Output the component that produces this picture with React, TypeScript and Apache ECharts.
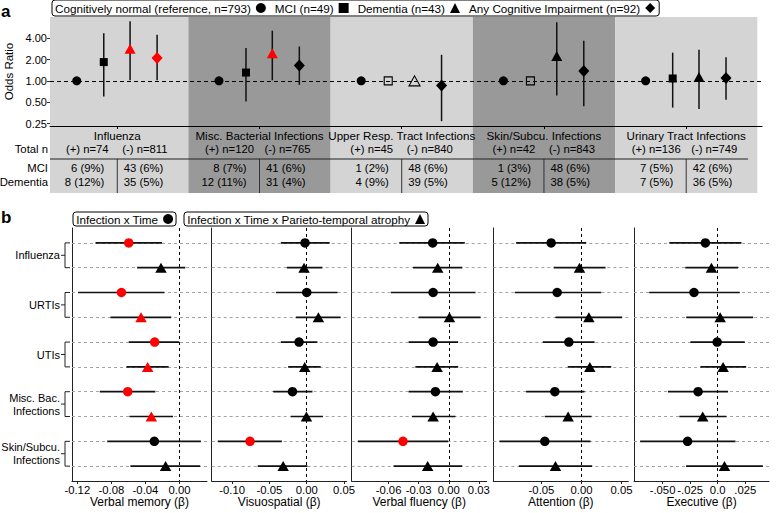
import React, { useEffect, useRef } from "react";
import * as echarts from "echarts";

const FONT = '"Liberation Sans", Arial, Helvetica, sans-serif';
const RED = "#ff0000";
const INK = "#000000";
const BAND_LIGHT = "#d4d4d4";
const BAND_DARK = "#999999";

// ---------- Panel a: odds ratios by infection type ----------
const infectionGroups = [
  "Influenza",
  "Misc. Bacterial Infections",
  "Upper Resp. Tract Infections",
  "Skin/Subcu. Infections",
  "Urinary Tract Infections",
];
const statusNames = [
  "Cognitively normal (reference, n=793)",
  "MCI (n=49)",
  "Dementia (n=43)",
  "Any Cognitive Impairment (n=92)",
];

const referenceOR = [1, 1, 1, 1, 1];

const mciOR = [1.84, 1.31, 1.0, 1.0, 1.08];
const mciLow = [0.6, 0.51, null, null, 0.42];
const mciHigh = [4.7, 2.9, null, null, 2.5];

const dementiaOR = [2.83, 2.46, 1.0, 2.25, 1.13];
const dementiaLow = [1.02, 1.02, null, 0.62, 0.4];
const dementiaHigh = [6.9, 5.1, null, 6.7, 2.74];

const anyOR = [2.1, 1.64, 0.86, 1.38, 1.1];
const anyLow = [1.02, 0.88, 0.27, 0.44, 0.54];
const anyHigh = [4.47, 3.05, 2.33, 3.67, 2.16];

const oddsTicks = [0.25, 0.5, 1, 2, 4];

// counts table under panel a
const totalPositive = [74, 120, 45, 42, 136];
const totalNegative = [811, 765, 840, 843, 749];
const mciPositive = [6, 8, 1, 1, 7];
const mciPositivePct = [9, 7, 2, 3, 5];
const mciNegative = [43, 41, 48, 48, 42];
const mciNegativePct = [6, 6, 6, 6, 6];
const dementiaPositive = [8, 12, 4, 5, 7];
const dementiaPositivePct = [12, 11, 9, 12, 5];
const dementiaNegative = [35, 31, 39, 38, 36];
const dementiaNegativePct = [5, 4, 5, 5, 5];

// ---------- Panel b: cognitive decline betas ----------
const timeName = "Infection x Time";
const atrophyName = "Infection x Time x Parieto-temporal atrophy";
const rowInfections = ["Influenza", "URTIs", "UTIs", "Misc. Bac.\nInfections", "Skin/Subcu.\nInfections"];
const domainNames = ["Verbal memory", "Visuospatial", "Verbal fluency", "Attention", "Executive"];

// rows alternate: Infection x Time, then Infection x Time x atrophy
const verbalMemoryBeta = [-0.0596, -0.0218, -0.0682, -0.0452, -0.0292, -0.0374, -0.0608, -0.0331, -0.0296, -0.0164];
const verbalMemoryLow = [-0.0986, -0.0498, -0.119, -0.081, -0.0596, -0.0623, -0.0936, -0.0588, -0.0849, -0.0577];
const verbalMemoryHigh = [-0.0206, 0.0067, -0.0179, -0.0097, -0.0005, -0.0128, -0.0284, -0.0077, 0.025, 0.0242];

const visuospatialBeta = [-0.0023, -0.0036, 0.0, 0.0156, -0.0103, -0.0027, -0.0191, -0.0004, -0.076, -0.0316];
const visuospatialLow = [-0.0347, -0.0267, -0.0413, -0.0147, -0.0347, -0.0249, -0.0449, -0.0213, -0.1191, -0.0657];
const visuospatialHigh = [0.0307, 0.0209, 0.0413, 0.0453, 0.0143, 0.0187, 0.0076, 0.0217, -0.0333, 0.0009];

const verbalFluencyBeta = [-0.016, -0.011, -0.0156, 0.0007, -0.0156, -0.0116, -0.0133, -0.0156, -0.0456, -0.021];
const verbalFluencyLow = [-0.0493, -0.0356, -0.0576, -0.03, -0.04, -0.0333, -0.04, -0.0366, -0.0906, -0.055];
const verbalFluencyHigh = [0.016, 0.0134, 0.0267, 0.0317, 0.0094, 0.0094, 0.014, 0.0067, -0.0005, 0.0134];

const attentionBeta = [-0.0379, -0.0025, -0.0304, 0.0092, -0.0158, 0.0104, -0.0333, -0.0167, -0.0458, -0.0325];
const attentionLow = [-0.0817, -0.0346, -0.0833, -0.0325, -0.0483, -0.0171, -0.0692, -0.0458, -0.1025, -0.0783];
const attentionHigh = [0.0058, 0.03, 0.0246, 0.0508, 0.0163, 0.0371, 0.0038, 0.0125, 0.0113, 0.0133];

const executiveBeta = [-0.0112, -0.0057, -0.0215, 0.0022, -0.0005, 0.0049, -0.0178, -0.0136, -0.0273, 0.0061];
const executiveLow = [-0.0439, -0.0294, -0.0621, -0.0285, -0.0248, -0.0157, -0.0451, -0.0348, -0.0703, -0.0287];
const executiveHigh = [0.0215, 0.0185, 0.02, 0.0321, 0.0245, 0.0258, 0.0094, 0.0079, 0.0161, 0.0409];

const verbalMemoryTicks = [-0.12, -0.08, -0.04, 0];
const verbalMemoryTickLabels = ["-0.12", "-0.08", "-0.04", "0.00"];
const visuospatialTicks = [-0.1, -0.05, 0, 0.05];
const visuospatialTickLabels = ["-0.10", "-0.05", "0.00", "0.05"];
const verbalFluencyTicks = [-0.06, -0.03, 0, 0.03];
const verbalFluencyTickLabels = ["-0.06", "-0.03", "0.00", "0.03"];
const attentionTicks = [-0.05, 0, 0.05];
const attentionTickLabels = ["-0.05", "0.00", "0.05"];
const executiveTicks = [-0.05, -0.025, 0, 0.025];
const executiveTickLabels = ["-.050", "-.025", "0.0", ".025"];

const domainBeta = [verbalMemoryBeta, visuospatialBeta, verbalFluencyBeta, attentionBeta, executiveBeta];
const domainLow = [verbalMemoryLow, visuospatialLow, verbalFluencyLow, attentionLow, executiveLow];
const domainHigh = [verbalMemoryHigh, visuospatialHigh, verbalFluencyHigh, attentionHigh, executiveHigh];
const domainTicks = [verbalMemoryTicks, visuospatialTicks, verbalFluencyTicks, attentionTicks, executiveTicks];
const domainTickLabels = [
  verbalMemoryTickLabels,
  visuospatialTickLabels,
  verbalFluencyTickLabels,
  attentionTickLabels,
  executiveTickLabels,
];

// ---------- layout ----------
const PANEL_A = { left: 50, top: 17, width: 712, height: 109 };
const TABLE_A = { left: 50, top: 126, width: 712, height: 67 };
const PANEL_B_LEFTS = [72, 211.7, 351.7, 493.3, 634];
const PANEL_B_TOP = 228;
const PANEL_B_WIDTH = 135;
const PANEL_B_HEIGHT = 253;
const GROUP_X_MIN = -0.473;
const GROUP_X_MAX = 4.533;
const STATUS_OFFSETS = [-0.285, -0.095, 0.09, 0.28];
// table rows (pixel offsets from table top)
const ROW_NAME = 9;
const ROW_TOTAL = 23;
const ROW_RULE = 33;
const ROW_MCI = 42;
const ROW_DEM = 56;
const TABLE_RULE_END = 4.435;

const textStyle = (extra: any) => ({ fill: INK, fontSize: 11.3, fontFamily: FONT, ...extra });

function paddedRange(low: number[], high: number[]) {
  const lo = Math.min(...low);
  const hi = Math.max(...high);
  const pad = (hi - lo) * 0.05;
  return [lo - pad, hi + pad];
}

function buildOption() {
  const grids: any[] = [
    { ...PANEL_A, outerBoundsMode: "none" },
    { ...TABLE_A, outerBoundsMode: "none" },
  ];
  PANEL_B_LEFTS.forEach((l) =>
    grids.push({ left: l, top: PANEL_B_TOP, width: PANEL_B_WIDTH, height: PANEL_B_HEIGHT, outerBoundsMode: "none" })
  );

  const xAxes: any[] = [
    {
      type: "value",
      gridIndex: 0,
      min: GROUP_X_MIN,
      max: GROUP_X_MAX,
      z: 10,
      axisLine: { show: true, onZero: false, lineStyle: { color: INK, width: 1 } },
      axisTick: { show: true, customValues: [0, 1, 2, 3, 4], length: 3, lineStyle: { color: INK } },
      axisLabel: { show: false },
      splitLine: { show: false },
    },
    {
      type: "value",
      gridIndex: 1,
      min: GROUP_X_MIN,
      max: GROUP_X_MAX,
      show: false,
      axisLine: { onZero: false },
      splitLine: { show: false },
    },
  ];
  const yAxes: any[] = [
    {
      type: "log",
      logBase: 2,
      gridIndex: 0,
      min: 0.231,
      max: 7.95,
      axisLine: { show: false, onZero: false },
      axisTick: { show: true, customValues: oddsTicks, length: 3, lineStyle: { color: "#333" } },
      axisLabel: {
        customValues: oddsTicks,
        formatter: (v: number) => v.toFixed(2),
        margin: 3,
        fontSize: 11,
        color: INK,
        fontFamily: FONT,
      },
      splitLine: { show: false },
      name: "Odds Ratio",
      nameLocation: "middle",
      nameGap: 29,
      nameTextStyle: { fontSize: 11.5, color: INK, fontFamily: FONT },
    },
    {
      type: "value",
      gridIndex: 1,
      min: 0,
      max: TABLE_A.height,
      inverse: true,
      show: false,
      axisLine: { onZero: false },
      splitLine: { show: false },
    },
  ];

  const series: any[] = [];

  // alternating background bands behind each infection group (plot + table)
  [0, 1].forEach((gi) => {
    series.push({
      type: "custom",
      xAxisIndex: gi,
      yAxisIndex: gi,
      z: 0,
      silent: true,
      data: infectionGroups.map((_, i) => [i, gi === 0 ? 1 : 0]),
      encode: { x: 0, y: 1 },
      renderItem: (params: any, api: any) => {
        const cs = params.coordSys;
        const i = api.value(0);
        const yv = api.value(1);
        const xa = Math.max(api.coord([i - 0.5, yv])[0], cs.x);
        const xb = Math.min(api.coord([i + 0.5, yv])[0], cs.x + cs.width);
        return {
          type: "rect",
          shape: { x: xa, y: cs.y, width: xb - xa, height: cs.height },
          style: { fill: i % 2 ? BAND_DARK : BAND_LIGHT },
        };
      },
    });
  });

  // reference line at OR = 1
  series.push({
    type: "scatter",
    xAxisIndex: 0,
    yAxisIndex: 0,
    z: 1,
    silent: true,
    symbolSize: 0,
    data: [[0, 1]],
    markLine: {
      z: 1,
      silent: true,
      symbol: ["none", "none"],
      label: { show: false },
      lineStyle: { color: INK, type: [4, 3], width: 1 },
      data: [{ yAxis: 1 }],
    },
  });

  // confidence intervals for the odds ratios
  const ciData: any[] = [];
  const ciSets = [
    [mciLow, mciHigh, 1],
    [dementiaLow, dementiaHigh, 2],
    [anyLow, anyHigh, 3],
  ] as any[];
  ciSets.forEach(([lows, highs, k]) => {
    infectionGroups.forEach((_, g) => {
      if (lows[g] != null && highs[g] != null) ciData.push([g + STATUS_OFFSETS[k], lows[g], highs[g]]);
    });
  });
  series.push({
    type: "custom",
    xAxisIndex: 0,
    yAxisIndex: 0,
    z: 2,
    silent: true,
    data: ciData,
    encode: { x: 0, y: [1, 2] },
    renderItem: (params: any, api: any) => {
      const p1 = api.coord([api.value(0), api.value(1)]);
      const p2 = api.coord([api.value(0), api.value(2)]);
      return {
        type: "line",
        shape: { x1: p1[0], y1: p1[1], x2: p2[0], y2: p2[1] },
        style: { stroke: "#111", lineWidth: 1.5 },
      };
    },
  });

  // odds-ratio markers
  const markerSets = [
    { values: referenceOR, lows: null, symbol: "circle", size: 9 },
    { values: mciOR, lows: mciLow, symbol: "rect", size: 8 },
    { values: dementiaOR, lows: dementiaLow, symbol: "triangle", size: [11, 10] },
    { values: anyOR, lows: anyLow, symbol: "diamond", size: [11, 12] },
  ];
  markerSets.forEach((m, k) => {
    series.push({
      type: "scatter",
      name: statusNames[k],
      xAxisIndex: 0,
      yAxisIndex: 0,
      z: 4,
      symbol: m.symbol,
      symbolSize: m.size,
      itemStyle: { color: INK, opacity: 1 },
      data: m.values.map((v, g) => {
        const low = m.lows ? m.lows[g] : undefined;
        let itemStyle: any = { color: INK };
        if (m.lows && low == null) {
          itemStyle = { color: "rgba(0,0,0,0)", borderColor: INK, borderWidth: 1.1 };
        } else if (low != null && low > 1) {
          itemStyle = { color: RED };
        }
        return { value: [g + STATUS_OFFSETS[k], v], itemStyle };
      }),
    });
  });

  // counts table under panel a
  series.push({
    type: "custom",
    xAxisIndex: 1,
    yAxisIndex: 1,
    z: 3,
    silent: true,
    data: infectionGroups.map((_, g) => [g, 0]),
    encode: { x: 0, y: 1 },
    renderItem: (params: any, api: any) => {
      const g = api.value(0);
      const cx = api.coord([g, 0])[0];
      const y = (r: number) => api.coord([g, r])[1];
      return {
        type: "group",
        children: [
          { type: "text", x: cx, y: y(ROW_NAME), style: textStyle({ text: infectionGroups[g], align: "center", verticalAlign: "middle", fontSize: 11.6 }) },
          { type: "text", x: cx - 30, y: y(ROW_TOTAL), style: textStyle({ text: `(+) n=${totalPositive[g]}`, align: "center", verticalAlign: "middle" }) },
          { type: "text", x: cx + 5, y: y(ROW_TOTAL), style: textStyle({ text: `(-) n=${totalNegative[g]}`, align: "left", verticalAlign: "middle" }) },
          { type: "text", x: cx - 13, y: y(ROW_MCI), style: textStyle({ text: `${mciPositive[g]} (${mciPositivePct[g]}%)`, align: "right", verticalAlign: "middle" }) },
          { type: "text", x: cx + 46, y: y(ROW_MCI), style: textStyle({ text: `${mciNegative[g]} (${mciNegativePct[g]}%)`, align: "right", verticalAlign: "middle" }) },
          { type: "text", x: cx - 13, y: y(ROW_DEM), style: textStyle({ text: `${dementiaPositive[g]} (${dementiaPositivePct[g]}%)`, align: "right", verticalAlign: "middle" }) },
          { type: "text", x: cx + 46, y: y(ROW_DEM), style: textStyle({ text: `${dementiaNegative[g]} (${dementiaNegativePct[g]}%)`, align: "right", verticalAlign: "middle" }) },
          {
            type: "line",
            shape: { x1: cx, y1: y(ROW_RULE), x2: cx, y2: y(TABLE_A.height) },
            style: { stroke: "#333", lineWidth: 1 },
          },
        ],
      };
    },
  });
  series.push({
    type: "custom",
    xAxisIndex: 1,
    yAxisIndex: 1,
    z: 3,
    silent: true,
    clip: false,
    data: [[GROUP_X_MIN, 0]],
    encode: { x: 0, y: 1 },
    renderItem: (params: any, api: any) => {
      const cs = params.coordSys;
      const y = (r: number) => api.coord([0, r])[1];
      const x0 = cs.x - 2;
      return {
        type: "group",
        children: [
          { type: "text", x: x0, y: y(ROW_TOTAL), style: textStyle({ text: "Total n", align: "right", verticalAlign: "middle" }) },
          { type: "text", x: x0, y: y(ROW_MCI), style: textStyle({ text: "MCI", align: "right", verticalAlign: "middle" }) },
          { type: "text", x: x0, y: y(ROW_DEM), style: textStyle({ text: "Dementia", align: "right", verticalAlign: "middle" }) },
          {
            type: "line",
            shape: { x1: cs.x, y1: y(ROW_RULE), x2: api.coord([TABLE_RULE_END, 0])[0], y2: y(ROW_RULE) },
            style: { stroke: "#222", lineWidth: 1 },
          },
        ],
      };
    },
  });

  // ---------- panel b ----------
  domainNames.forEach((domain, i) => {
    const gi = 2 + i;
    const [lo, hi] = paddedRange(domainLow[i], domainHigh[i]);
    const ticks = domainTicks[i];
    const labels = domainTickLabels[i];
    xAxes.push({
      type: "value",
      gridIndex: gi,
      min: lo,
      max: hi,
      axisLine: { show: true, onZero: false, lineStyle: { color: "#222", width: 1 } },
      axisTick: { show: true, customValues: ticks, length: 3, lineStyle: { color: "#222" } },
      axisLabel: {
        customValues: ticks,
        formatter: (v: number) => {
          const j = ticks.findIndex((t) => Math.abs(t - v) < 1e-9);
          return j >= 0 ? labels[j] : "";
        },
        margin: 3,
        fontSize: 11.3,
        color: INK,
        fontFamily: FONT,
      },
      splitLine: { show: false },
      name: `${domain} (β)`,
      nameLocation: "middle",
      nameGap: 15,
      nameTextStyle: { fontSize: 12, color: INK, fontFamily: FONT },
    });
    yAxes.push({
      type: "value",
      gridIndex: gi,
      inverse: true,
      min: -0.6,
      max: 9.6,
      axisLine: { show: true, onZero: false, lineStyle: { color: "#222", width: 1 } },
      axisTick: { show: false },
      splitLine: { show: false },
      axisLabel:
        i === 0
          ? {
              customValues: [0.5, 2.5, 4.5, 6.5, 8.5],
              formatter: (v: number) => rowInfections[Math.round((v - 0.5) / 2)] || "",
              margin: 12,
              fontSize: 11,
              lineHeight: 13,
              color: INK,
              fontFamily: FONT,
              align: "right",
            }
          : { show: false },
    });

    const beta = domainBeta[i];
    const lows = domainLow[i];
    const highs = domainHigh[i];
    const rows = beta.map((_, r) => r);

    // dashed row guides and the zero reference, beneath the estimates
    series.push({
      type: "scatter",
      xAxisIndex: gi,
      yAxisIndex: gi,
      z: 1,
      silent: true,
      symbolSize: 0,
      data: [[0, 0]],
      markLine: {
        z: 1,
        silent: true,
        symbol: ["none", "none"],
        label: { show: false },
        data: [
          ...rows.map((r) => ({ yAxis: r, lineStyle: { color: "#a3a3a3", type: [3, 3], width: 1 } })),
          { xAxis: 0, lineStyle: { color: INK, type: [3, 3], width: 1 } },
        ],
      },
    });

    series.push({
      type: "custom",
      xAxisIndex: gi,
      yAxisIndex: gi,
      z: 2,
      silent: true,
      data: rows.map((r) => [lows[r], r, highs[r]]),
      encode: { x: [0, 2], y: 1 },
      renderItem: (params: any, api: any) => {
        const p1 = api.coord([api.value(0), api.value(1)]);
        const p2 = api.coord([api.value(2), api.value(1)]);
        return {
          type: "line",
          shape: { x1: p1[0], y1: p1[1], x2: p2[0], y2: p2[1] },
          style: { stroke: "#111", lineWidth: 1.7 },
        };
      },
    });

    const point = (r: number) => ({
      value: [beta[r], r],
      itemStyle: { color: highs[r] < 0 || lows[r] > 0 ? RED : INK },
    });
    series.push({
      type: "scatter",
      name: timeName,
      xAxisIndex: gi,
      yAxisIndex: gi,
      z: 4,
      symbol: "circle",
      symbolSize: 9.5,
      itemStyle: { color: INK, opacity: 1 },
      data: rows.filter((r) => r % 2 === 0).map(point),
    });
    series.push({
      type: "scatter",
      name: atrophyName,
      xAxisIndex: gi,
      yAxisIndex: gi,
      z: 4,
      symbol: "triangle",
      symbolSize: [11.5, 10],
      itemStyle: { color: INK, opacity: 1 },
      data: rows.filter((r) => r % 2 === 1).map(point),
    });

    // curly braces joining the two rows of each infection
    if (i === 0) {
      series.push({
        type: "custom",
        xAxisIndex: gi,
        yAxisIndex: gi,
        z: 3,
        silent: true,
        clip: false,
        data: rowInfections.map((_, k) => [lo, 2 * k, 2 * k + 1]),
        encode: { x: 0, y: [1, 2] },
        renderItem: (params: any, api: any) => {
          const x0 = params.coordSys.x;
          const y0 = api.coord([api.value(0), api.value(1)])[1];
          const y1 = api.coord([api.value(0), api.value(2)])[1];
          const mid = (y0 + y1) / 2;
          return {
            type: "group",
            children: [
              {
                type: "polyline",
                shape: { points: [[x0 - 2, y0], [x0 - 7, y0], [x0 - 7, y1], [x0 - 2, y1]] },
                style: { stroke: "#222", fill: "none", lineWidth: 1 },
              },
              {
                type: "line",
                shape: { x1: x0 - 11, y1: mid, x2: x0 - 7, y2: mid },
                style: { stroke: "#222", lineWidth: 1 },
              },
            ],
          };
        },
      });
    }
  });

  const legendBase = {
    orient: "horizontal",
    align: "right",
    selectedMode: false,
    borderColor: INK,
    borderWidth: 1,
    borderRadius: 3,
    backgroundColor: "#fff",
    itemWidth: 10,
    itemHeight: 10,
  };

  return {
    animation: false,
    backgroundColor: "#fff",
    textStyle: { fontFamily: FONT },
    grid: grids,
    xAxis: xAxes,
    yAxis: yAxes,
    series,
    legend: [
      {
        ...legendBase,
        data: statusNames,
        left: 52,
        top: 0,
        itemGap: 9,
        padding: [2, 4, 2, 3],
        textStyle: { fontSize: 11.7, color: INK, fontFamily: FONT },
      },
      {
        ...legendBase,
        data: [timeName],
        left: 73,
        top: 212,
        padding: [1, 3, 1, 3],
        textStyle: { fontSize: 11.7, color: INK, fontFamily: FONT },
      },
      {
        ...legendBase,
        data: [atrophyName],
        left: 184,
        top: 212,
        padding: [1, 3, 1, 3],
        textStyle: { fontSize: 11.7, color: INK, fontFamily: FONT },
      },
    ],
    graphic: [
      { type: "text", left: 1, top: 3, style: { text: "a", fontSize: 17, fontWeight: "bold", fontFamily: FONT, fill: INK } },
      { type: "text", left: 1, top: 209, style: { text: "b", fontSize: 17, fontWeight: "bold", fontFamily: FONT, fill: INK } },
    ],
  };
}

export default function App() {
  const ref = useRef<HTMLDivElement>(null);
  useEffect(() => {
    if (!ref.current) return;
    const chart = echarts.init(ref.current, null, { renderer: "svg" });
    chart.setOption(buildOption() as any);
    return () => chart.dispose();
  }, []);
  return <div ref={ref} style={{ position: "fixed", left: 0, top: 0, width: 778, height: 513 }} />;
}
